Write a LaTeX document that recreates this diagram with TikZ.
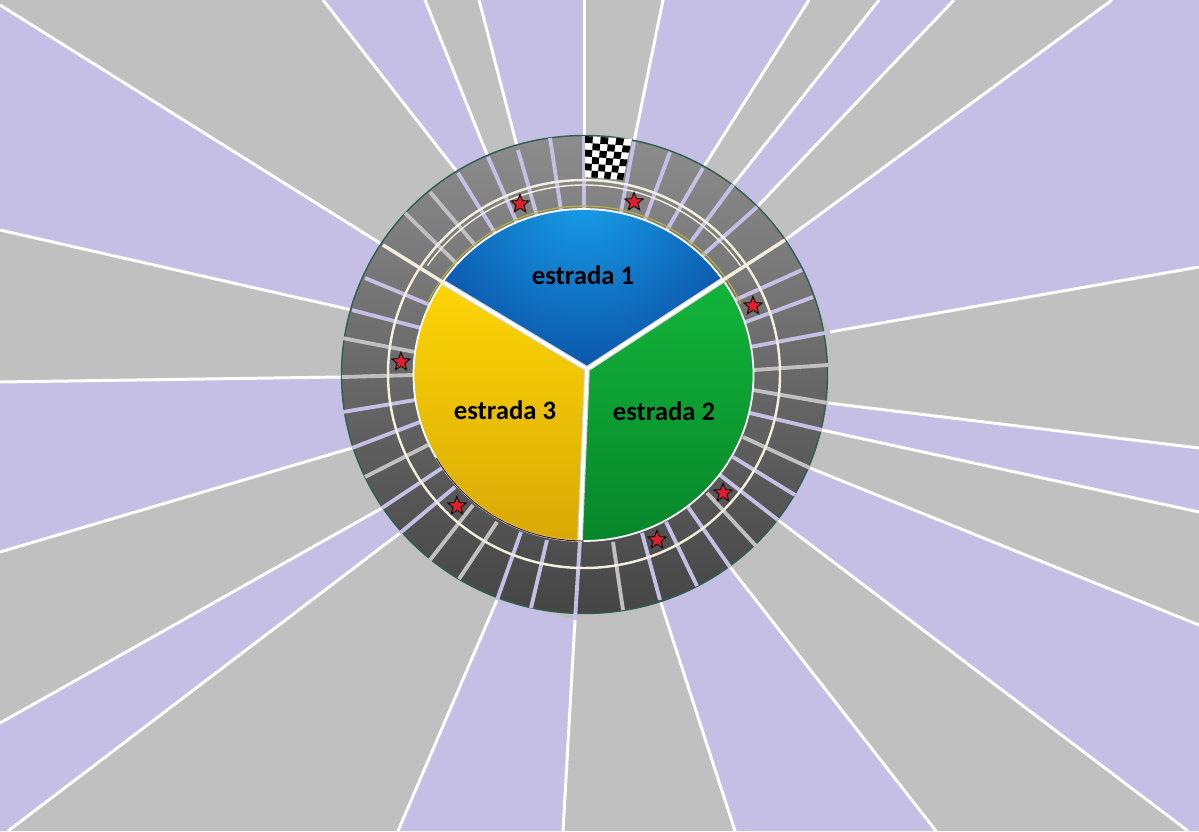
\documentclass[tikz,border=0pt]{standalone}
\usepackage{fontspec}
\setmainfont{Carlito}
\usetikzlibrary{shapes.geometric}
\definecolor{lavsector}{HTML}{C5BFE6}
\definecolor{graysector}{HTML}{C0C0C0}
\definecolor{creamline}{HTML}{F2F0DC}
\definecolor{ringedge}{HTML}{2F5F50}
\definecolor{bluetop}{HTML}{189FE8}
\definecolor{bluelow}{HTML}{0A4BA2}
\definecolor{yellowtop}{HTML}{FDD505}
\definecolor{yellowlow}{HTML}{D9A806}
\definecolor{greentop}{HTML}{12B53A}
\definecolor{greenlow}{HTML}{07852A}
\definecolor{starred}{HTML}{E0202F}
\tikzset{
    lavfill/.style={fill=lavsector},
    whiteray/.style={white,line width=1.7pt},
    lavline/.style={lavsector,line width=2.2pt},
    grayline/.style={graysector,line width=2.2pt},
    redstar/.style={star,star points=5,star point ratio=2.3,minimum size=11pt,inner sep=0pt,draw=black,line width=.5pt,fill=starred},
    roadlabel/.style={font=\fontsize{15.2}{17}\selectfont\bfseries,text=black},
    declare function={flagx(\u,\v)=585+47*\u-9*\u*\v; flagy(\u,\v)=136+3*\u+41*\v;}
}
\begin{document}
\begin{tikzpicture}[x=0.02cm,y=-0.02cm]
        \useasboundingbox (0,0) rectangle (1199,831);
        \clip (0,0) rectangle (1199,831);
        \coordinate (hub) at (587,369);
        \coordinate (center) at (584.5,374.5);

        \fill[graysector] (0,0) rectangle (1199,831);
        \fill[lavfill] (663,0) -- (634,142) -- (703,168) -- (809,0) -- cycle;
        \fill[lavfill] (879,0) -- (733,185) -- (757,207) -- (954,0) -- cycle;
        \fill[lavfill] (1112,0) -- (785,240) -- (830,332) -- (1199,267) -- (1199,0) -- cycle;
        \fill[lavfill] (1199,448) -- (828,403) -- (822,430) -- (1199,512) -- cycle;
        \fill[lavfill] (1199,625) -- (810,468) -- (778,520) -- (1188,831) -- (1199,831) -- cycle;
        \fill[lavfill] (936,831) -- (730,567) -- (660,600) -- (735,831) -- cycle;
        \fill[lavfill] (563,831) -- (575,620) -- (497,600) -- (398,831) -- cycle;
        \fill[lavfill] (8,831) -- (400,533) -- (382,508) -- (0,723) -- (0,831) -- cycle;
        \fill[lavfill] (0,552) -- (352,448) -- (342,377) -- (0,382) -- cycle;
        \fill[lavfill] (0,230) -- (352,310) -- (383,245) -- (0,5) -- cycle;
        \fill[lavfill] (323,0) -- (458,173) -- (488,157) -- (425,0) -- cycle;
        \fill[lavfill] (479,0) -- (518,150) -- (584,140) -- (584,0) -- cycle;

        \foreach \xa/\ya/\xb/\yb in {584/0/584/140, 663/0/634/142, 809/0/703/168, 879/0/733/185, 954/0/757/207, 1112/0/785/240,
            1199/267/830/332, 1199/448/828/403, 1199/512/822/430, 1199/625/810/468, 1188/831/778/520, 936/831/730/567,
            735/831/660/600, 563/831/575/620, 398/831/497/600, 8/831/400/533, 0/723/382/508, 0/552/352/448,
            0/382/342/377, 0/230/352/310, 0/5/383/245, 323/0/458/173, 425/0/488/157, 479/0/518/150}
            \draw[whiteray] (\xa,\ya) -- (\xb,\yb);

        \fill[top color=black!45,middle color=black!63,bottom color=black!73] (center) ellipse [x radius=243,y radius=239];
        \draw[ringedge,line width=.8pt] (center) ellipse [x radius=243,y radius=239];

        \foreach \xa/\ya/\xb/\yb in {584/136/584/210, 550/138/561/210, 518/150/537/216, 488/157/517/223, 458/173/495/233,
            634/142/621/212, 670/152/645/220, 703/168/667/230, 733/185/690/243, 757/207/703/255,
            802/270/735/300, 813/297/743/323, 830/332/750/347, 822/430/750/413, 795/495/733/457, 778/520/720/475,
            730/567/688/507, 697/586/666/522, 660/600/642/533, 575/620/580/540, 531/608/547/540, 497/600/521/532,
            400/533/455/487, 382/508/442/468, 352/448/420/422, 343/412/415/400, 352/310/421/328, 365/278/430/305}
            \draw[lavline] (\xa,\ya) -- (\xb,\yb);
        \foreach \xa/\ya/\xb/\yb in {430/192/475/245, 405/213/458/265, 342/338/415/352, 342/377/413/375,
            828/365/754/370, 828/403/753/390, 810/468/743/437, 757/547/707/493, 623/610/613/542,
            459/579/497/522, 430/560/473/505, 365/477/428/445}
            \draw[grayline] (\xa,\ya) -- (\xb,\yb);

        \draw[creamline,line width=1.4pt] (584,374) ellipse [x radius=196,y radius=194];
        \draw[creamline,line width=.8pt] (584,374) ++(215:191 and 189) arc [start angle=215,end angle=325,x radius=191,y radius=189];
        \draw[yellow!70!black,line width=.6pt] (584,375) ++(205:173 and 169) arc [start angle=205,end angle=335,x radius=173,y radius=169];

        \begin{scope}
            \clip (583.5,375) ellipse [x radius=170,y radius=166];
            \fill[top color=yellowtop,bottom color=yellowlow] (587,369) -- (444,283) -- (405,283) -- (405,545) -- (580,545) -- cycle;
            \fill[top color=greentop,bottom color=greenlow] (587,369) -- (723,280) -- (760,280) -- (760,545) -- (580,545) -- cycle;
            \clip (587,369) -- (444,283) -- (444,205) -- (723,205) -- (723,280) -- cycle;
            \shade[inner color=bluetop,outer color=bluelow] (583,195) circle [radius=200];
        \end{scope}
        \draw[white,line width=1pt] (583.5,375) ellipse [x radius=170,y radius=166];
        \draw[black!75!orange,line width=.6pt] (583.5,375) ++(90:170 and 166) arc [start angle=90,end angle=150,x radius=170,y radius=166];

        \foreach \rimx/\rimy in {444/283,723/280,580/540} {
            \draw[black!18,line width=3.2pt] (hub) -- (\rimx,\rimy);
            \draw[white,line width=2pt] (hub) -- (\rimx,\rimy);
        }
        \draw[creamline,line width=2pt] (383,245) -- (444,283);
        \draw[creamline,line width=2pt] (785,240) -- (723,280);

        \fill[white] (585,136) -- (632,139) -- (623,180) -- (585,177) -- cycle;
        \foreach \col in {0,...,5}
            \foreach \row in {0,...,5} {
                \pgfmathtruncatemacro{\odd}{mod(\col+\row,2)}
                \ifnum\odd=0
                    \fill[black] ({flagx(\col/6,\row/6)},{flagy(\col/6,\row/6)}) -- ({flagx((\col+1)/6,\row/6)},{flagy((\col+1)/6,\row/6)})
                        -- ({flagx((\col+1)/6,(\row+1)/6)},{flagy((\col+1)/6,(\row+1)/6)}) -- ({flagx(\col/6,(\row+1)/6)},{flagy(\col/6,(\row+1)/6)}) -- cycle;
                \fi
            }

        \node (star1) [redstar] at (520,204) {};
        \node (star2) [redstar] at (634,202) {};
        \node (star3) [redstar] at (753,306) {};
        \node (star4) [redstar] at (723,493) {};
        \node (star5) [redstar] at (657,540) {};
        \node (star6) [redstar] at (457,506) {};
        \node (star7) [redstar] at (401,362) {};

        \node (road1) [roadlabel] at (583,275) {estrada 1};
        \node (road2) [roadlabel] at (664,411) {estrada 2};
        \node (road3) [roadlabel] at (505,410) {estrada 3};
\end{tikzpicture}
\end{document}
